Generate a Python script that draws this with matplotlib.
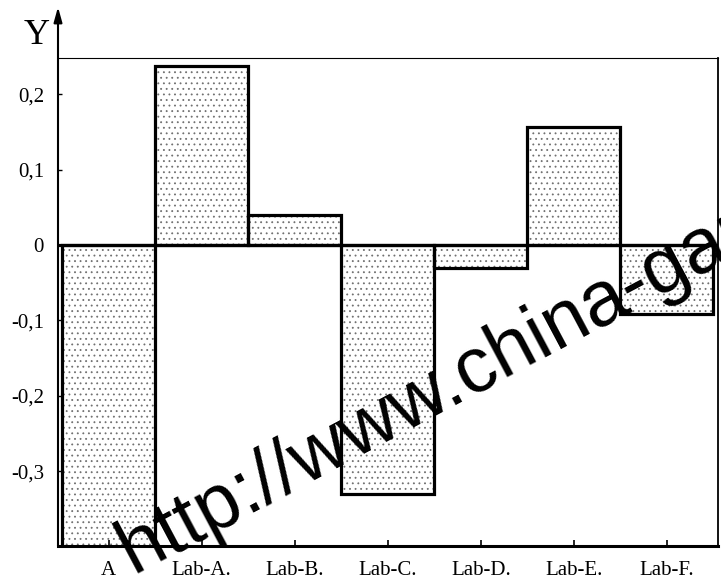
import matplotlib
matplotlib.use("Agg")
import matplotlib.pyplot as plt

# data
categories = ["A", "Lab-A.", "Lab-B.", "Lab-C.", "Lab-D.", "Lab-E.", "Lab-F."]
values = [-0.40, 0.237, 0.04, -0.33, -0.03, 0.156, -0.092]
yticks = [0.2, 0.1, 0, -0.1, -0.2, -0.3]
watermark = "http://www.china-gauges.com"

plt.rcParams["font.family"] = ["Liberation Serif", "DejaVu Serif"]
plt.rcParams["hatch.linewidth"] = 0.6

fig = plt.figure(figsize=(7.21, 5.86), dpi=100)
ax = fig.add_axes([58 / 721, 1 - 546 / 586, 660 / 721, 488 / 586])

x = list(range(len(categories)))
# dotted fill, then black outline on top
ax.bar(x, values, width=1.0, color="white", edgecolor="#707070", hatch="...", linewidth=0)
ax.bar(x, values, width=1.0, fill=False, edgecolor="black", linewidth=2.3)
ax.axhline(0, color="black", linewidth=2.3)

ax.set_xlim(-0.545, 6.55)
ax.set_ylim(-0.399, 0.248)

ax.set_xticks(x)
ax.set_xticklabels(categories, fontsize=15)
ax.set_yticks(yticks)
ax.set_yticklabels(["0" if v == 0 else f"{v:.1f}".replace(".", ",") for v in yticks], fontsize=15)
ax.tick_params(axis="x", direction="in", length=4, width=1.2, pad=11)
ax.tick_params(axis="y", direction="in", length=3, width=1.0, pad=10)

ax.spines["bottom"].set_linewidth(2.2)
ax.spines["top"].set_linewidth(0.8)
ax.spines["right"].set_linewidth(1.3)
ax.spines["left"].set_visible(False)

# y axis with arrow going past the top of the frame
ax.annotate("", xy=(0, 539 / 488), xytext=(0, 0), xycoords="axes fraction",
            arrowprops=dict(arrowstyle="-|>,head_length=0.9,head_width=0.25",
                            color="black", lw=1.5, shrinkA=0, shrinkB=0),
            annotation_clip=False)
fig.text(37 / 721, 1 - 35 / 586, "Y", fontsize=26, ha="center", va="center")

fig.text(133 / 721, 1 - 574 / 586, watermark, fontsize=56, rotation=28,
         family="Liberation Sans", ha="left", va="baseline", rotation_mode="anchor",
         color="black")

plt.savefig("out.png", dpi=100)
